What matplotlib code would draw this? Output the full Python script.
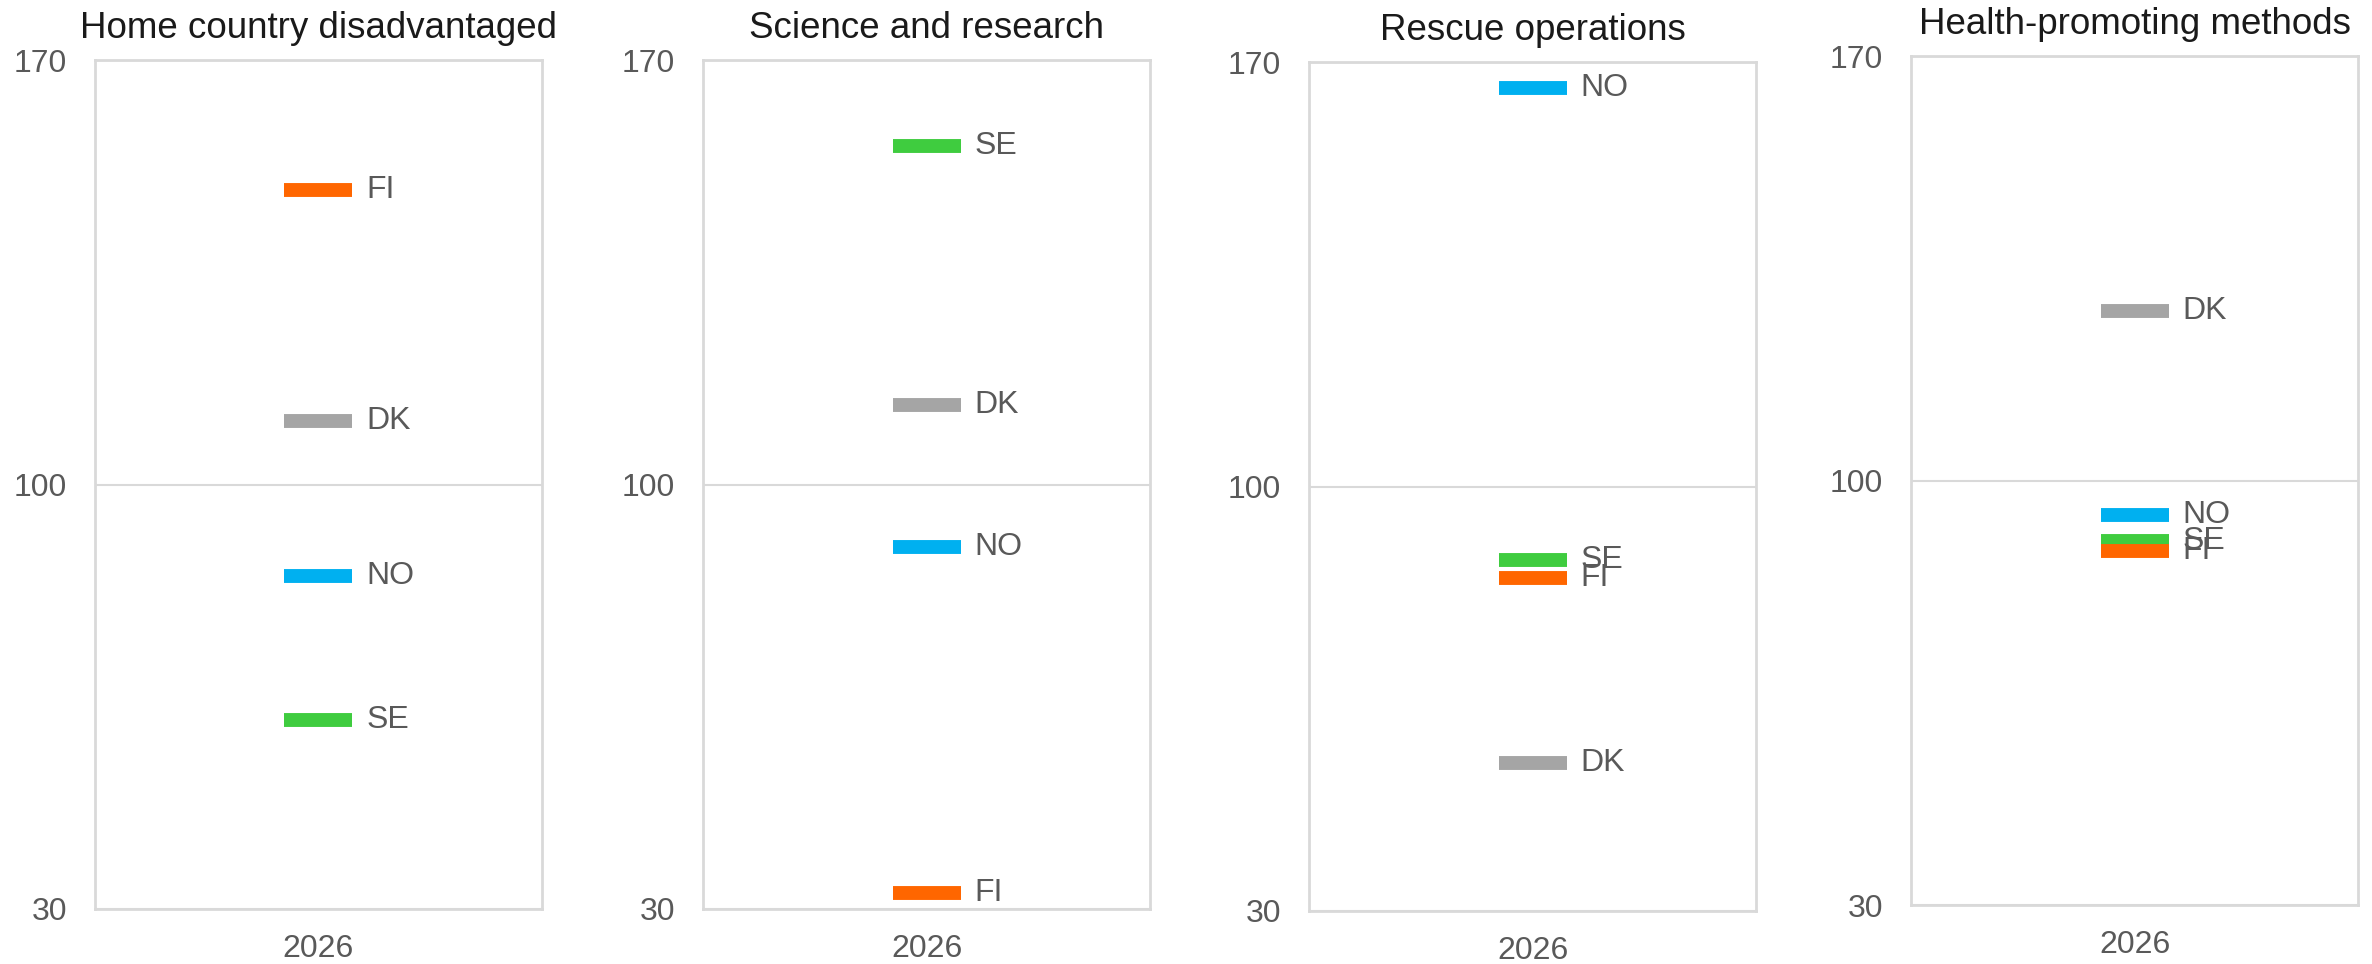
import matplotlib.pyplot as plt

# Data
titles = ['Home country disadvantaged', 'Science and research',
          'Rescue operations', 'Health-promoting methods']
countries = ['DK', 'SE', 'NO', 'FI']
colors = {'DK': '#A5A5A5', 'SE': '#3FCC3F', 'NO': '#00B0F0', 'FI': '#FF6600'}
category = ['2026']

DK = [110.5, 113.2, 54.4, 128.0]
SE = [61.1, 155.9, 87.9, 90.0]
NO = [85.0, 89.7, 165.7, 94.4]
FI = [148.6, 32.6, 84.9, 88.4]
values = {'DK': DK, 'SE': SE, 'NO': NO, 'FI': FI}

yticks = [30, 100, 170]

plt.rcParams['font.family'] = ['Liberation Sans', 'DejaVu Sans']

fig = plt.figure(figsize=(23.72, 9.64), dpi=100)

# Posições dos painéis (fração da figura)
lefts = [0.040, 0.2964, 0.5519, 0.8057]
bottoms = [0.0571, 0.0571, 0.0550, 0.0612]
w, h = 0.1885, 0.8804

grid_col = '#D9D9D9'
text_col = '#595959'

for i, title in enumerate(titles):
    ax = fig.add_axes([lefts[i], bottoms[i], w, h])
    for c in countries:
        ax.plot([0], [values[c][i]], marker='_', markersize=49,
                markeredgewidth=10, color=colors[c], linestyle='none')
        ax.annotate(c, (0, values[c][i]), xytext=(34.5, 0),
                    textcoords='offset points', va='center', ha='left',
                    fontsize=23, color=text_col)
    ax.set_xlim(-0.5, 0.5)
    ax.set_ylim(30, 170)
    ax.set_xticks([0])
    ax.set_xticklabels(category)
    ax.set_yticks(yticks)
    ax.tick_params(axis='both', length=0, labelsize=23, labelcolor=text_col)
    ax.tick_params(axis='y', pad=20)
    ax.tick_params(axis='x', pad=18)
    ax.grid(axis='y', color=grid_col, linewidth=1.5)
    ax.set_axisbelow(True)
    for s in ax.spines.values():
        s.set_color(grid_col)
        s.set_linewidth(2)
    ax.set_title(title, fontsize=26.5, color='#1A1A1A', pad=16)

plt.savefig('out.png', dpi=100)
